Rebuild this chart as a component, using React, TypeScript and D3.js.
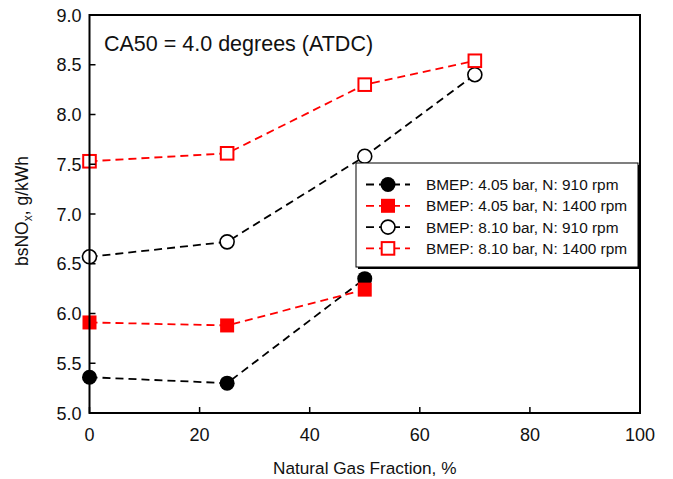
import * as d3 from "d3"

const fractions = [0, 25, 50, 70]
const low910 = [5.36, 5.3, 6.35]
const low1400 = [5.91, 5.88, 6.24]
const high910 = [6.57, 6.72, 7.58, 8.4]
const high1400 = [7.53, 7.61, 8.3, 8.54]

const xTicks = [0, 20, 40, 60, 80, 100]
const yTicks = [5.0, 5.5, 6.0, 6.5, 7.0, 7.5, 8.0, 8.5, 9.0]

const seriesNames = [
  "BMEP: 4.05 bar, N: 910 rpm",
  "BMEP: 4.05 bar, N: 1400 rpm",
  "BMEP: 8.10 bar, N: 910 rpm",
  "BMEP: 8.10 bar, N: 1400 rpm",
]

type Series = { name: string; values: number[]; color: string; shape: "circle" | "square"; filled: boolean }

const series: Series[] = [
  { name: seriesNames[0], values: low910, color: "#000", shape: "circle", filled: true },
  { name: seriesNames[1], values: low1400, color: "#f00", shape: "square", filled: true },
  { name: seriesNames[2], values: high910, color: "#000", shape: "circle", filled: false },
  { name: seriesNames[3], values: high1400, color: "#f00", shape: "square", filled: false },
]

const font = "'Liberation Sans', Arial, Helvetica, sans-serif"

function Marker({ s, x, y }: { s: Series; x: number; y: number }) {
  if (s.shape === "circle") {
    return (
      <circle cx={x} cy={y} r={s.filled ? 7.5 : 7} fill={s.filled ? s.color : "#fff"}
        stroke={s.color} strokeWidth={s.filled ? 0 : 1.6} />
    )
  }
  const half = s.filled ? 7 : 6.3
  return (
    <rect x={x - half} y={y - half} width={half * 2} height={half * 2}
      fill={s.filled ? s.color : "#fff"} stroke={s.color} strokeWidth={s.filled ? 0 : 2} />
  )
}

export default function App() {
  const width = 673
  const height = 479
  const left = 89.5
  const right = 640
  const top = 15
  const bottom = 413

  const x = d3.scaleLinear().domain([0, 100]).range([left, right])
  const y = d3.scaleLinear().domain([5, 9]).range([bottom, top])

  const line = d3.line<[number, number]>()
    .x(d => x(d[0]))
    .y(d => y(d[1]))

  const legendX = 356
  const legendY = 163
  const legendW = 282
  const legendH = 104
  const rowGap = 21.3

  return (
    <svg width={width} height={height} style={{ position: "absolute", left: 0, top: 0, background: "#fff" }}
      fontFamily={font}>
      <rect width={width} height={height} fill="#fff" />

      {series.map((s, i) => (
        <path key={"l" + i}
          d={line(s.values.map((v, j) => [fractions[j], v] as [number, number])) || ""}
          fill="none" stroke={s.color} strokeWidth={1.8} strokeDasharray="8,5" />
      ))}
      {series.map((s, i) => (
        <g key={"m" + i}>
          {s.values.map((v, j) => (
            <Marker key={j} s={s} x={x(fractions[j])} y={y(v)} />
          ))}
        </g>
      ))}

      {/* frame */}
      <rect x={left} y={top} width={right - left} height={bottom - top} fill="none" stroke="#000" strokeWidth={2} />

      {xTicks.map(t => (
        <g key={"x" + t}>
          <line x1={x(t)} x2={x(t)} y1={bottom} y2={bottom - 6} stroke="#000" strokeWidth={1.5} />
          <text x={x(t)} y={bottom + 28} textAnchor="middle" fontSize={18} fill="#111">{t}</text>
        </g>
      ))}
      {yTicks.map(t => (
        <g key={"y" + t}>
          <line x1={left} x2={left + 6} y1={y(t)} y2={y(t)} stroke="#000" strokeWidth={1.5} />
          <text x={left - 8} y={y(t) + 6.5} textAnchor="end" fontSize={18} fill="#111">{t.toFixed(1)}</text>
        </g>
      ))}

      <text x={(left + right) / 2} y={474} textAnchor="middle" fontSize={17.2} fill="#111">
        Natural Gas Fraction, %
      </text>
      <text transform={`translate(28,${(top + bottom) / 2 - 3}) rotate(-90)`} textAnchor="middle" fontSize={17.5} fill="#111">
        bsNO<tspan fontSize={12} dy={4}>x</tspan><tspan dy={-4}>, g/kWh</tspan>
      </text>

      <text x={104} y={51} fontSize={21.5} fill="#111">CA50 = 4.0 degrees (ATDC)</text>

      {/* legend */}
      <rect x={legendX + 2} y={legendY + 2} width={legendW} height={legendH} fill="#000" />
      <rect x={legendX} y={legendY} width={legendW} height={legendH} fill="#fff" stroke="#000" strokeWidth={1} />
      {series.map((s, i) => {
        const ry = legendY + 21.5 + i * rowGap
        return (
          <g key={"lg" + i}>
            <line x1={366} x2={410} y1={ry} y2={ry} stroke={s.color} strokeWidth={1.8} strokeDasharray="8,5" />
            <Marker s={s} x={388} y={ry} />
            <text x={426} y={ry + 5.5} fontSize={15.4} fill="#111">{s.name}</text>
          </g>
        )
      })}
    </svg>
  )
}
